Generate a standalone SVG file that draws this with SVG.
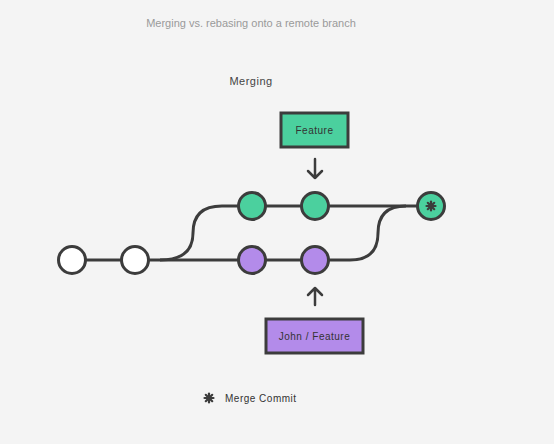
<svg xmlns="http://www.w3.org/2000/svg" width="554" height="444" viewBox="0 0 554 444">
<defs>
<style>
.t{font-family:"Liberation Sans",Arial,sans-serif;}
.ls{letter-spacing:0.5px;}
.ln{fill:none;stroke:#3c3c3c;stroke-width:3;}
.c{stroke:#3c3c3c;stroke-width:3;}
.w{fill:#ffffff;}
.g{fill:#4bd09e;}
.p{fill:#b38bea;}
.ar{fill:none;stroke:#3c3c3c;stroke-width:2.5;stroke-linecap:round;stroke-linejoin:round;}
</style>
<g id="star">
<g stroke="#3c3c3c" stroke-width="2.2" stroke-linecap="round">
<line x1="0" y1="-4.5" x2="0" y2="4.5"/>
<line x1="-4.5" y1="0" x2="4.5" y2="0"/>
<line x1="-3.2" y1="-3.2" x2="3.2" y2="3.2"/>
<line x1="-3.2" y1="3.2" x2="3.2" y2="-3.2"/>
</g>
<circle r="2.6" fill="#3c3c3c"/>
</g>
</defs>
<rect width="554" height="444" fill="#f4f4f4"/>
<text class="t" x="251" y="27" font-size="11" fill="#9a9a9a" text-anchor="middle">Merging vs. rebasing onto a remote branch</text>
<text class="t ls" x="251" y="85" font-size="11" fill="#444" text-anchor="middle">Merging</text>
<g id="connectors">
<path class="ln" d="M72 260 L350 260 Q378 260 378 233 Q378 206 406 206"/>
<path class="ln" d="M160 260 Q193 260 193 233 Q193 206 222 206 L431 206"/>
<path class="ar" d="M315 159 L315 178 M308 171 L315 178 L322 171"/>
<path class="ar" d="M315 305 L315 288 M308 295 L315 288 L322 295"/>
</g>
<g id="c1"><circle class="c w" cx="72" cy="260" r="13.5"/></g>
<g id="c2"><circle class="c w" cx="135" cy="260" r="13.5"/></g>
<g id="g1"><circle class="c g" cx="252" cy="206" r="13.5"/></g>
<g id="g2"><circle class="c g" cx="315" cy="206" r="13.5"/></g>
<g id="p1"><circle class="c p" cx="252" cy="260" r="13.5"/></g>
<g id="p2"><circle class="c p" cx="315" cy="260" r="13.5"/></g>
<g id="merge"><circle class="c g" cx="431" cy="206" r="13.5"/><use href="#star" x="431" y="206"/></g>
<g id="feature">
<rect x="281" y="113" width="67" height="34" class="c g"/>
<text class="t ls" x="314.5" y="134" font-size="10" fill="#333" text-anchor="middle">Feature</text>
</g>
<g id="john">
<rect x="266" y="319" width="97" height="34" class="c p"/>
<text class="t ls" x="314.5" y="340" font-size="10" fill="#333" text-anchor="middle">John / Feature</text>
</g>
<g id="legend">
<use href="#star" x="209" y="398"/>
<text class="t ls" x="225" y="402" font-size="10" fill="#333">Merge Commit</text>
</g>
</svg>
